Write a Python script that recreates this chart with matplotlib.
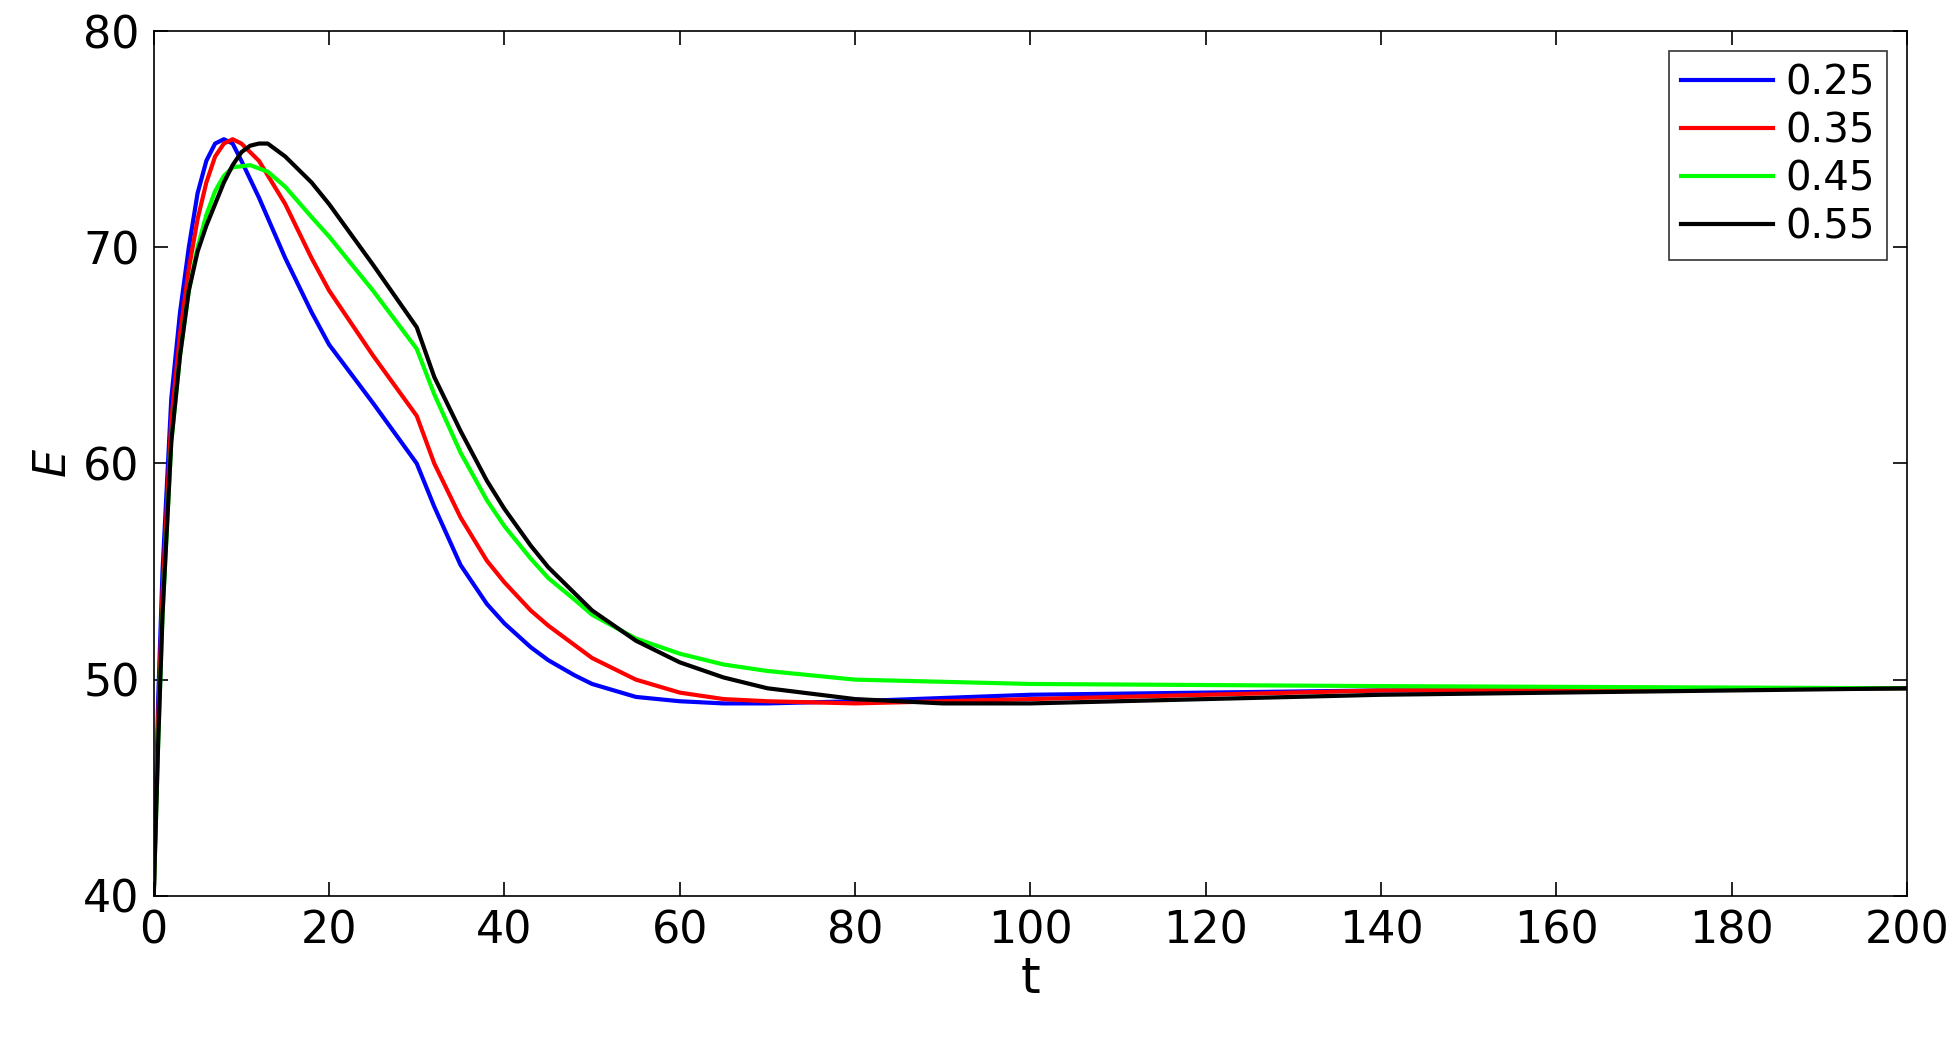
import matplotlib
matplotlib.use("Agg")
import matplotlib.pyplot as plt

labels = ["0.25", "0.35", "0.45", "0.55"]
colors = ["#0000ff", "#ff0000", "#00ff00", "#000000"]

t_b = [0, 0.5, 1, 2, 3, 4, 5, 6, 7, 8, 9, 10, 12, 15, 18, 20, 25, 30, 32, 35, 38, 40, 43, 45, 48, 50, 55, 60, 65, 70, 80, 100, 140, 200]
e_b = [40, 49, 55, 63, 67, 70, 72.5, 74, 74.8, 75, 74.8, 74, 72.3, 69.5, 67, 65.5, 62.8, 60, 58, 55.3, 53.5, 52.6, 51.5, 50.9, 50.2, 49.8, 49.2, 49, 48.9, 48.9, 49, 49.3, 49.5, 49.6]
t_r = [0, 0.5, 1, 2, 3, 4, 5, 6, 7, 8, 9, 10, 12, 15, 18, 20, 25, 30, 32, 35, 38, 40, 43, 45, 48, 50, 55, 60, 65, 70, 80, 100, 140, 200]
e_r = [40, 48, 54, 62, 66, 69, 71.3, 73, 74.2, 74.8, 75, 74.8, 74, 72, 69.5, 68, 65, 62.2, 60, 57.5, 55.5, 54.5, 53.2, 52.5, 51.6, 51, 50, 49.4, 49.1, 49, 48.9, 49.1, 49.5, 49.6]
t_g = [0, 0.5, 1, 2, 3, 4, 5, 6, 7, 8, 9, 11, 13, 15, 18, 20, 25, 30, 32, 35, 38, 40, 43, 45, 48, 50, 55, 60, 65, 70, 80, 100, 140, 200]
e_g = [40, 47, 53, 61, 65, 68, 70, 71.5, 72.6, 73.3, 73.7, 73.8, 73.5, 72.8, 71.4, 70.5, 68, 65.3, 63.2, 60.5, 58.3, 57.1, 55.6, 54.7, 53.7, 53, 51.9, 51.2, 50.7, 50.4, 50, 49.8, 49.7, 49.6]
t_k = [0, 0.5, 1, 2, 3, 4, 5, 6, 7, 8, 9, 10, 11, 12, 13, 15, 18, 20, 25, 30, 32, 35, 38, 40, 43, 45, 48, 50, 55, 60, 65, 70, 80, 90, 100, 120, 140, 200]
e_k = [40, 47, 53, 61, 65, 68, 69.8, 71, 72, 73, 73.8, 74.4, 74.7, 74.8, 74.8, 74.2, 73, 72, 69.2, 66.3, 64, 61.5, 59.2, 57.9, 56.2, 55.2, 54, 53.2, 51.8, 50.8, 50.1, 49.6, 49.1, 48.9, 48.9, 49.1, 49.3, 49.6]

series = [(t_b, e_b), (t_r, e_r), (t_g, e_g), (t_k, e_k)]

fig = plt.figure(figsize=(19.56, 10.38), dpi=100)
ax = fig.add_axes([0.0786, 0.137, 0.8964, 0.833])
for (t, e), c, l in zip(series, colors, labels):
    ax.plot(t, e, color=c, lw=3, label=l)
ax.set_xlim(0, 200)
ax.set_ylim(40, 80)
ax.set_xticks(range(0, 201, 20))
ax.set_yticks(range(40, 81, 10))
ax.tick_params(direction="in", length=10, labelsize=32, top=True, right=True, width=1.2, pad=10)
for s in ax.spines.values():
    s.set_linewidth(1.2)
ax.set_xlabel("t", fontsize=36, labelpad=2)
ax.set_ylabel("$E$", fontsize=32, labelpad=6)
leg = ax.legend(loc="upper right", fontsize=29, fancybox=False, edgecolor="black",
                handlelength=2.3, handletextpad=0.3, borderpad=0.3, labelspacing=0.2,
                borderaxespad=0.5)
leg.get_frame().set_linewidth(1.2)
fig.savefig("out.png", dpi=100)
